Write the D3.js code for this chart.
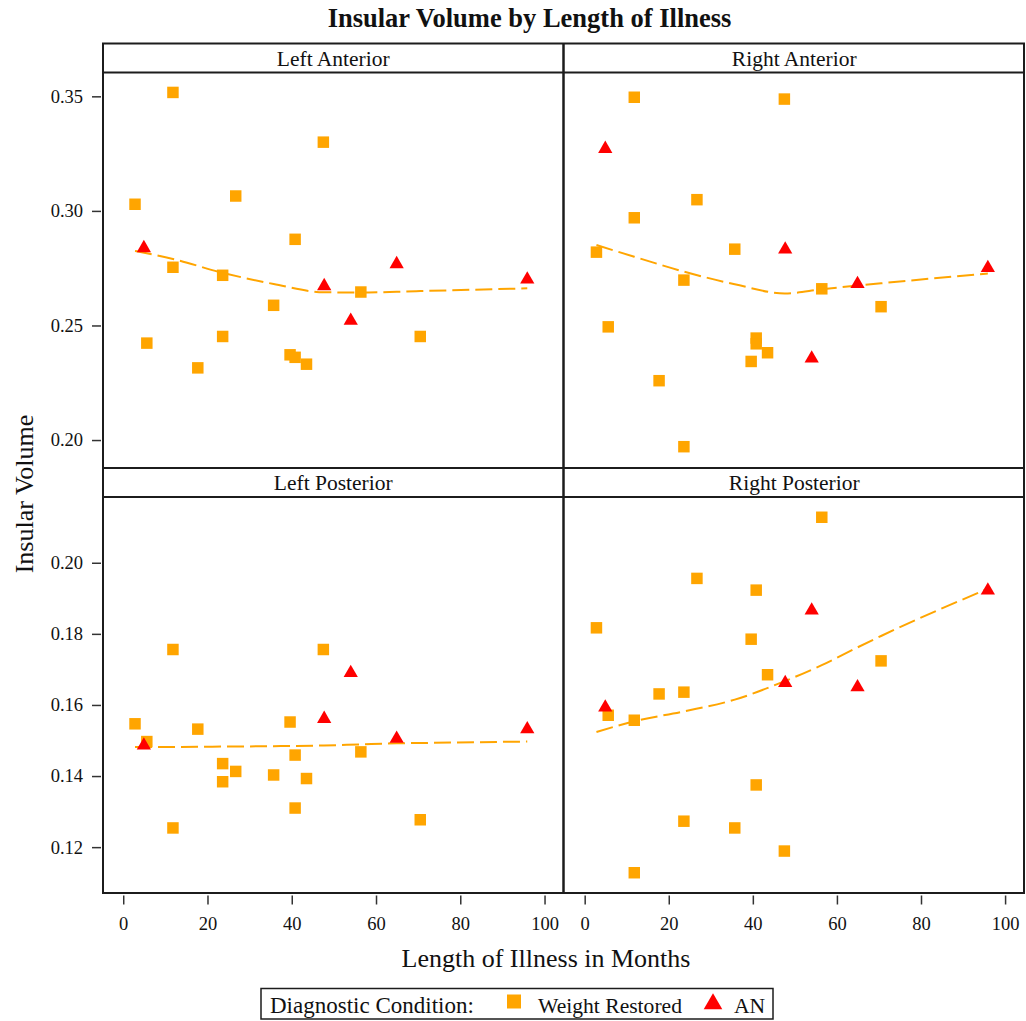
<!DOCTYPE html>
<html><head><meta charset="utf-8">
<script src="https://cdn.jsdelivr.net/npm/d3@7"></script>
<style>body{margin:0;background:#fff} text{font-family:"Liberation Serif","Times New Roman",serif;fill:#111}</style>
</head><body>
<svg id="chart" width="1026" height="1021"></svg>
<script>
// ---------- data ----------
const panelNames = ["Left Anterior", "Right Anterior", "Left Posterior", "Right Posterior"];
const legendLabels = ["Weight Restored", "AN"];
const xTicks = [0, 20, 40, 60, 80, 100];
const topYTicks = [0.20, 0.25, 0.30, 0.35];
const bottomYTicks = [0.12, 0.14, 0.16, 0.18, 0.20];

const wrMonths = [2.8, 5.6, 11.8, 11.8, 17.7, 23.6, 23.6, 26.7, 35.7, 39.6, 40.8, 40.8, 43.5, 47.5, 56.4, 70.5];
const anMonths = [4.9, 47.7, 54.0, 64.9, 95.9];

const wrLeftAnterior   = [0.3029, 0.2423, 0.3517, 0.2754, 0.2315, 0.2719, 0.2452, 0.3065, 0.2588, 0.2372, 0.2876, 0.2361, 0.2331, 0.3300, 0.2646, 0.2452];
const wrRightAnterior  = [0.2820, 0.2494, 0.3496, 0.2970, 0.2259, 0.2698, 0.1971, 0.3049, 0.2833, 0.2343, 0.2445, 0.2420, 0.2381, 0.3488, 0.2660, 0.2582];
const wrLeftPosterior  = [0.1547, 0.1497, 0.1756, 0.1254, 0.1532, 0.1435, 0.1384, 0.1413, 0.1403, 0.1552, 0.1459, 0.1310, 0.1393, 0.1756, 0.1468, 0.1277];
const wrRightPosterior = [0.1817, 0.1571, 0.1557, 0.1128, 0.1631, 0.1636, 0.1273, 0.1956, 0.1254, 0.1785, 0.1923, 0.1375, 0.1685, 0.1189, 0.2128, 0.1724];

const anLeftAnterior   = [0.2838, 0.2672, 0.2521, 0.2768, 0.2701];
const anRightAnterior  = [0.3271, 0.2832, 0.2356, 0.2681, 0.2751];
const anLeftPosterior  = [0.1486, 0.1561, 0.1690, 0.1505, 0.1532];
const anRightPosterior = [0.1593, 0.1662, 0.1866, 0.1650, 0.1922];

const fitMonths = [2.8, 11.8, 23.6, 35.7, 47.6, 56.4, 64.9, 70.5, 95.9];
const fitLeftAnterior   = [0.2825, 0.2790, 0.2730, 0.2681, 0.2645, 0.2644, 0.2647, 0.2650, 0.2662];
const fitRightAnterior  = [0.2851, 0.2800, 0.2735, 0.2680, 0.2640, 0.2658, 0.2674, 0.2684, 0.2727];
const fitLeftPosterior  = [0.1482, 0.1482, 0.1483, 0.1484, 0.1486, 0.1489, 0.1492, 0.1493, 0.1497];
const fitRightPosterior = [0.1524, 0.1554, 0.1582, 0.1615, 0.1667, 0.1712, 0.1762, 0.1794, 0.1927];

// ---------- layout ----------
const svg = d3.select("#chart");
const ORANGE = "#FFA500", RED = "#FF0000", FRAME = "#1c1c1c";
const frameL = 103, frameR = 1024, midX = 563.5, frameT = 43.5, headerH = 29;
const rows = [{top: frameT + headerH, bottom: 468}, {top: 468 + headerH, bottom: 893}];
const cols = [{left: frameL, right: midX}, {left: midX + 1, right: frameR}];

const xDomain = [-4.8, 104.5];
const yDomains = [[0.1878, 0.3604], [0.1071, 0.2185]];

const wrSets = [wrLeftAnterior, wrRightAnterior, wrLeftPosterior, wrRightPosterior];
const anSets = [anLeftAnterior, anRightAnterior, anLeftPosterior, anRightPosterior];
const fitSets = [fitLeftAnterior, fitRightAnterior, fitLeftPosterior, fitRightPosterior];

const xScales = cols.map(c => d3.scaleLinear().domain(xDomain).range([c.left, c.right]));
const yScales = rows.map((r, i) => d3.scaleLinear().domain(yDomains[i]).range([r.bottom, r.top]));

const sq = d3.symbol().type(d3.symbolSquare).size(132);
const tri = d3.symbol().type(d3.symbolTriangle).size(88);

panelNames.forEach((name, p) => {
  const ri = Math.floor(p / 2), ci = p % 2;
  const x = xScales[ci], y = yScales[ri];
  const g = svg.append("g");
  // fit line
  const line = d3.line().curve(d3.curveMonotoneX).x(d => x(d[0])).y(d => y(d[1]));
  g.append("path")
    .datum(fitMonths.map((m, i) => [m, fitSets[p][i]]))
    .attr("d", line).attr("fill", "none")
    .attr("stroke", ORANGE).attr("stroke-width", 2)
    .attr("stroke-dasharray", "17,6");
  // weight restored squares
  g.selectAll(".wr").data(wrMonths.map((m, i) => [m, wrSets[p][i]])).join("path")
    .attr("d", sq).attr("fill", ORANGE)
    .attr("transform", d => `translate(${x(d[0])},${y(d[1])})`);
  // AN triangles
  g.selectAll(".an").data(anMonths.map((m, i) => [m, anSets[p][i]])).join("path")
    .attr("d", tri).attr("fill", RED)
    .attr("transform", d => `translate(${x(d[0])},${y(d[1])})`);
  // header text
  svg.append("text")
    .attr("x", (cols[ci].left + cols[ci].right) / 2)
    .attr("y", rows[ri].top - 7)
    .attr("text-anchor", "middle").style("font-size", "21.5px")
    .text(name);
});

// frame lines
const fr = svg.append("g").attr("stroke", FRAME).attr("fill", "none");
fr.append("rect").attr("x", frameL).attr("y", frameT)
  .attr("width", frameR - frameL).attr("height", rows[1].bottom - frameT).attr("stroke-width", 2);
fr.append("line").attr("x1", midX).attr("x2", midX).attr("y1", frameT).attr("y2", rows[1].bottom).attr("stroke-width", 2.5);
[rows[0].top, rows[0].bottom, rows[1].top].forEach(yy => {
  fr.append("line").attr("x1", frameL).attr("x2", frameR).attr("y1", yy).attr("y2", yy).attr("stroke-width", 2);
});

// y axes (left column)
[topYTicks, bottomYTicks].forEach((ticks, ri) => {
  const ax = d3.axisLeft(yScales[ri]).tickValues(ticks).tickFormat(d3.format(".2f")).tickSize(9).tickPadding(9);
  const g = svg.append("g").attr("transform", `translate(${frameL - 2},0)`).call(ax);
  g.select(".domain").remove();
  g.selectAll(".tick line").attr("stroke", "#333").attr("stroke-width", 1.5);
  g.selectAll(".tick text").style("font-size", "18.5px").style("font-family", '"Liberation Serif",serif').attr("fill", "#111");
});

// x axes (bottom row)
xScales.forEach(xs => {
  const ax = d3.axisBottom(xs).tickValues(xTicks).tickSize(9).tickPadding(12);
  const g = svg.append("g").attr("transform", `translate(0,${rows[1].bottom + 2.5})`).call(ax);
  g.select(".domain").remove();
  g.selectAll(".tick line").attr("stroke", "#333").attr("stroke-width", 1.5);
  g.selectAll(".tick text").style("font-size", "18.5px").style("font-family", '"Liberation Serif",serif').attr("fill", "#111");
});

// titles
svg.append("text").attr("x", 529.5).attr("y", 27).attr("text-anchor", "middle")
  .style("font-size", "26.5px").style("font-weight", "bold").text("Insular Volume by Length of Illness");
svg.append("text").attr("transform", "translate(33,494) rotate(-90)").attr("text-anchor", "middle")
  .style("font-size", "26px").text("Insular Volume");
svg.append("text").attr("x", 546).attr("y", 967).attr("text-anchor", "middle")
  .style("font-size", "26px").text("Length of Illness in Months");

// legend
const lg = svg.append("g");
lg.append("rect").attr("x", 261).attr("y", 988.5).attr("width", 512).attr("height", 30.5)
  .attr("fill", "#fff").attr("stroke", FRAME).attr("stroke-width", 1.5);
lg.append("text").attr("x", 270).attr("y", 1012.5).style("font-size", "23px").text("Diagnostic Condition:");
lg.append("path").attr("d", d3.symbol().type(d3.symbolSquare).size(196)).attr("fill", ORANGE)
  .attr("transform", "translate(514,1001.5)");
lg.append("text").attr("x", 538).attr("y", 1012.5).style("font-size", "21.6px").text(legendLabels[0]);
lg.append("path").attr("d", d3.symbol().type(d3.symbolTriangle).size(150)).attr("fill", RED)
  .attr("transform", "translate(713,1004)");
lg.append("text").attr("x", 734).attr("y", 1012.5).style("font-size", "21.6px").text(legendLabels[1]);
</script>
</body></html>
